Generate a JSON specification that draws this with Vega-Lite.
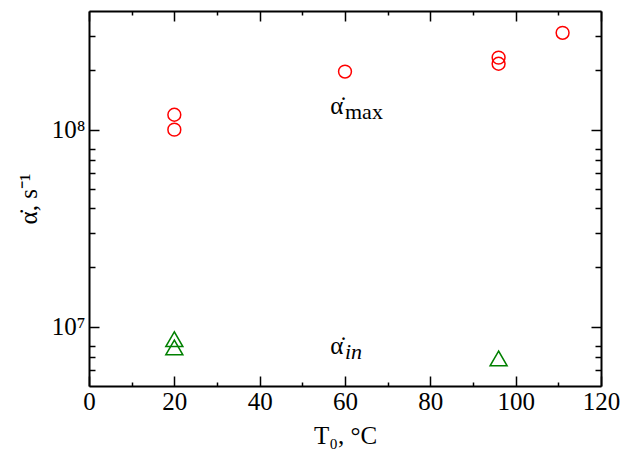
{
  "$schema": "https://vega.github.io/schema/vega-lite/v6.json",
  "width": 512,
  "height": 375,
  "autosize": "none",
  "padding": {"left": 89, "top": 11, "right": 30, "bottom": 66},
  "background": "white",
  "config": {
    "view": {"stroke": null},
    "font": "Liberation Serif",
    "axis": {
      "grid": false,
      "domainColor": "black",
      "domainWidth": 2,
      "tickColor": "black",
      "tickWidth": 1.5,
      "labelColor": "black",
      "titleColor": "black",
      "labelFont": "Liberation Serif",
      "titleFont": "Liberation Serif",
      "labelFontSize": 25,
      "titleFontSize": 25,
      "titleFontWeight": "normal"
    }
  },
  "layer": [
    {
      "data": {"values": [
        {"T": 20, "a": 100000000},
        {"T": 20, "a": 119000000},
        {"T": 60, "a": 197000000},
        {"T": 96, "a": 216000000},
        {"T": 96, "a": 232000000},
        {"T": 111, "a": 310000000}
      ]},
      "mark": {"type": "point", "shape": "circle", "filled": false, "color": "#ff0000", "size": 165, "strokeWidth": 1.5, "opacity": 1},
      "encoding": {
        "x": {"field": "T", "type": "quantitative",
          "scale": {"domain": [0, 120], "nice": false, "zero": false},
          "axis": {"orient": "bottom", "values": [0,10,20,30,40,50,60,70,80,90,100,110,120],
            "labelExpr": "datum.value % 20 == 0 ? datum.label : ''",
            "tickSize": {"condition": {"test": "datum.value % 20 == 0", "value": -10}, "value": -4},
            "labelPadding": 13,
            "labelFlush": false,
            "labelOverlap": false,
            "title": "T₀, °C",
            "titlePadding": 3}},
        "y": {"field": "a", "type": "quantitative",
          "scale": {"type": "log", "domain": [5000000, 400000000], "nice": false},
          "axis": {"orient": "left",
            "values": [6000000,7000000,8000000,10000000,20000000,30000000,40000000,50000000,60000000,70000000,80000000,100000000,200000000,300000000],
            "labelExpr": "datum.value == 100000000 ? '10⁸' : (datum.value == 10000000 ? '10⁷' : '')",
            "tickSize": {"condition": {"test": "datum.value == 100000000 || datum.value == 10000000", "value": -10}, "value": -6},
            "labelPadding": 14,
            "labelFlush": false,
            "labelOverlap": false,
            "title": "α̇, s⁻¹",
            "titleFontSize": 25,
            "titlePadding": 10}}
      }
    },
    {
      "data": {"values": [
        {"T": 20, "a": 8640000},
        {"T": 20, "a": 7850000},
        {"T": 96, "a": 6900000}
      ]},
      "mark": {"type": "point", "shape": "triangle-up", "filled": false, "color": "#008000", "size": 290, "strokeWidth": 1.5, "opacity": 1},
      "encoding": {
        "x": {"field": "T", "type": "quantitative",
          "scale": {"domain": [0, 120], "nice": false, "zero": false},
          "axis": {"orient": "top", "values": [0,10,20,30,40,50,60,70,80,90,100,110,120],
            "labels": false, "title": null,
            "tickSize": {"condition": {"test": "datum.value % 20 == 0", "value": -10}, "value": -4}}},
        "y": {"field": "a", "type": "quantitative",
          "scale": {"type": "log", "domain": [5000000, 400000000], "nice": false},
          "axis": {"orient": "right",
            "values": [6000000,7000000,8000000,10000000,20000000,30000000,40000000,50000000,60000000,70000000,80000000,100000000,200000000,300000000],
            "labels": false, "title": null,
            "tickSize": {"condition": {"test": "datum.value == 100000000 || datum.value == 10000000", "value": -10}, "value": -6}}}
      }
    },
    {
      "data": {"values": [
        {"T": 58.1, "a": 119600000, "t": "α̇"},
        {"T": 58.1, "a": 7270000, "t": "α̇"}
      ]},
      "mark": {"type": "text", "align": "center", "baseline": "alphabetic", "fontSize": 25, "font": "Liberation Serif", "color": "black"},
      "encoding": {
        "x": {"field": "T", "type": "quantitative", "axis": null},
        "y": {"field": "a", "type": "quantitative", "axis": null},
        "text": {"field": "t"}
      }
    },
    {
      "data": {"values": [
        {"T": 60.0, "a": 113700000, "t": "max"}
      ]},
      "mark": {"type": "text", "align": "left", "baseline": "alphabetic", "fontSize": 22, "font": "Liberation Serif", "color": "black"},
      "encoding": {
        "x": {"field": "T", "type": "quantitative", "axis": null},
        "y": {"field": "a", "type": "quantitative", "axis": null},
        "text": {"field": "t"}
      }
    },
    {
      "data": {"values": [
        {"T": 60.0, "a": 6860000, "t": "in"}
      ]},
      "mark": {"type": "text", "align": "left", "baseline": "alphabetic", "fontSize": 22, "fontStyle": "italic", "font": "Liberation Serif", "color": "black"},
      "encoding": {
        "x": {"field": "T", "type": "quantitative", "axis": null},
        "y": {"field": "a", "type": "quantitative", "axis": null},
        "text": {"field": "t"}
      }
    }
  ],
  "resolve": {"axis": {"x": "independent", "y": "independent"}}
}
